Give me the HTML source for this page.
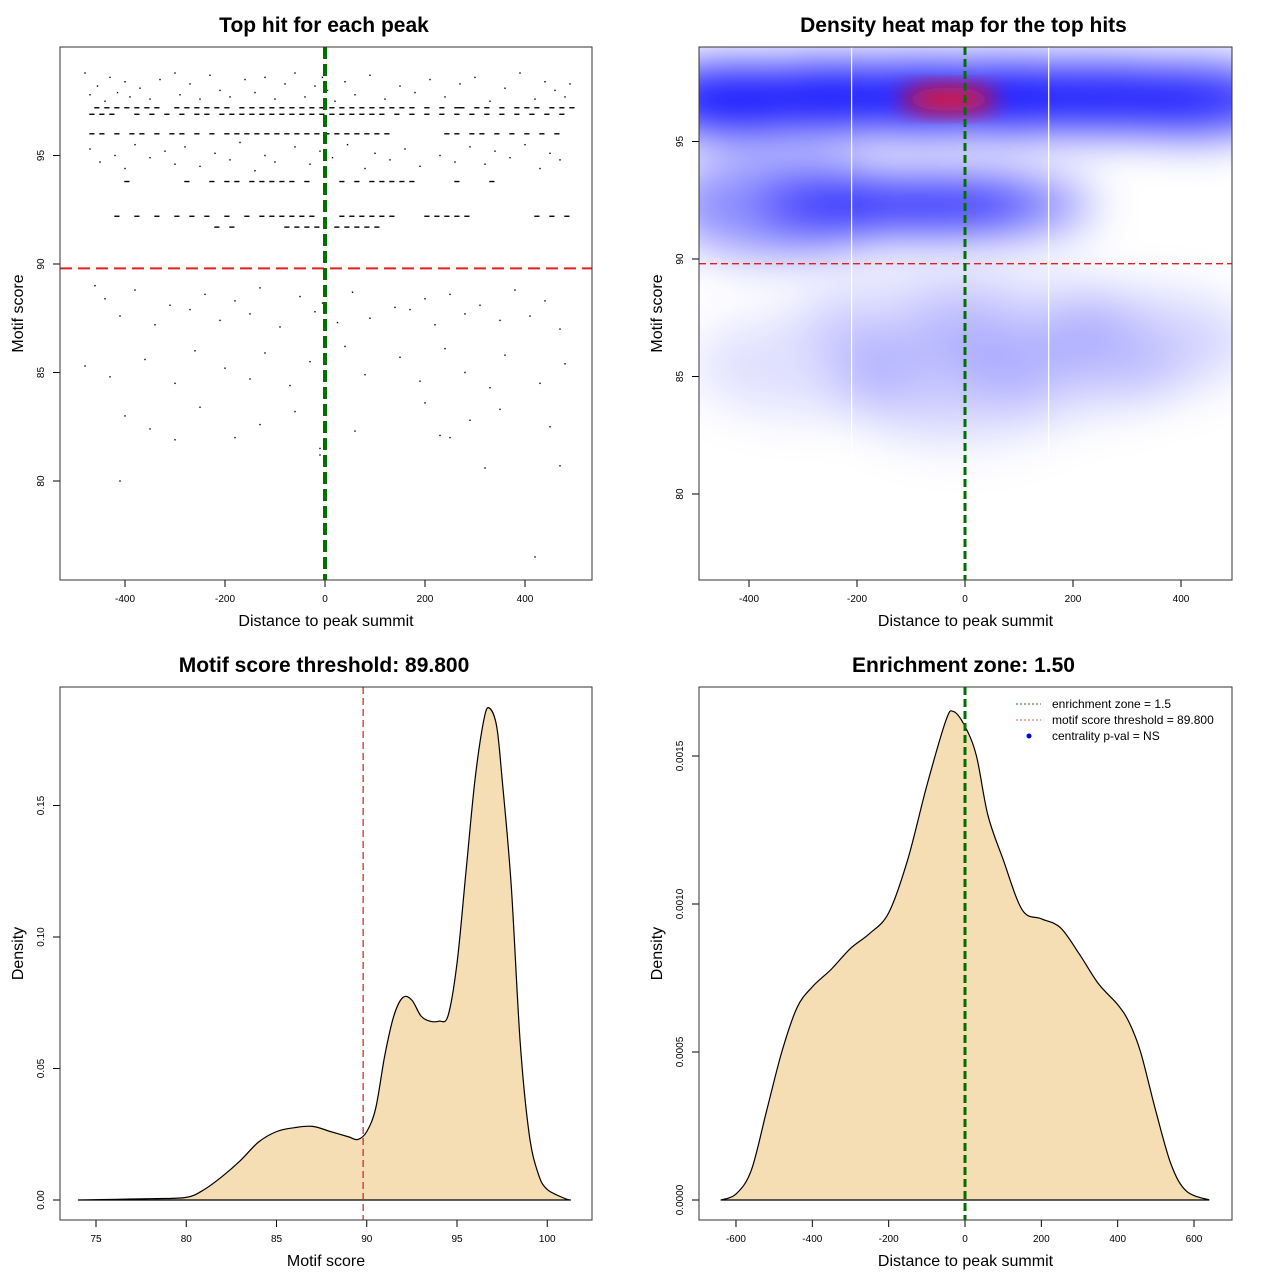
<!DOCTYPE html>
<html><head><meta charset="utf-8"><style>
body{margin:0;background:#fff}
svg{display:block;font-family:"Liberation Sans",sans-serif}
</style></head><body>
<svg id="c" width="1280" height="1280" viewBox="0 0 1280 1280"></svg>
<script>
// ---- data ----
const scatterRowLevels=[97.2,96.9,96.0,93.8,92.2,91.7];
const scatterRowX=[
[-460,-440,-420,-400,-380,-360,-340,-300,-280,-260,-240,-220,-200,-170,-150,-130,-110,-90,-70,-50,-30,-10,10,30,50,70,90,110,130,150,170,200,230,260,270,300,320,350,380,400,420,450,470,490],
[-470,-450,-430,-380,-350,-320,-290,-260,-240,-210,-190,-170,-150,-130,-110,-90,-70,-50,-30,-10,10,30,50,70,90,110,140,170,200,230,260,290,320,350,380,410,440,470],
[-470,-450,-420,-390,-370,-340,-310,-290,-260,-230,-200,-180,-160,-140,-120,-100,-80,-60,-40,-20,0,20,40,60,80,100,120,240,260,290,310,340,370,400,430,460],
[-400,-280,-230,-200,-180,-150,-130,-110,-90,-70,-40,30,60,90,110,130,150,170,260,330],
[-420,-380,-340,-300,-270,-240,-200,-160,-130,-110,-90,-70,-50,-30,30,50,70,90,110,130,200,220,240,260,280,420,450,480],
[-220,-190,-80,-60,-40,-20,20,40,60,80,100]
];
const scatterX=[-480,-470,-455,-440,-430,-415,-400,-390,-370,-350,-330,-300,-290,-270,-250,-230,-210,-190,-160,-140,-120,-100,-80,-60,-40,-20,-5,5,20,40,60,90,120,150,180,210,240,270,300,330,360,390,420,440,460,480,490,
-470,-450,-420,-400,-380,-350,-320,-300,-280,-250,-220,-190,-170,-140,-120,-100,-60,-30,-10,15,45,80,100,130,160,190,230,260,290,320,340,370,400,430,450,470,
-460,-440,-410,-380,-340,-310,-270,-240,-210,-180,-150,-130,-90,-50,-20,-5,25,55,90,140,170,200,220,250,280,310,350,380,410,440,470,
-480,-430,-360,-300,-260,-200,-150,-120,-70,-30,0,40,80,150,190,240,280,330,360,430,480,
-400,-350,-250,-180,-130,-60,-10,60,200,230,290,350,450,-410,-10,320,470,420,-300,250];
const scatterY=[98.8,97.8,98.2,97.5,98.6,97.9,98.4,97.7,98.1,97.6,98.5,98.8,97.8,98.3,97.6,98.7,98.0,97.7,98.5,97.9,98.6,97.6,98.3,98.8,97.7,98.2,98.6,98.0,97.5,98.4,97.8,98.7,97.6,98.2,97.9,98.5,97.7,98.3,98.6,97.5,98.1,98.8,97.6,98.4,98.0,97.7,98.3,
95.3,94.7,95.0,94.4,95.5,94.9,95.2,94.6,95.4,94.5,95.1,94.8,95.6,94.3,95.0,94.7,95.4,94.6,95.2,94.9,95.5,94.4,95.1,94.8,95.3,94.5,95.0,94.7,95.4,94.6,95.2,94.9,95.5,94.4,95.1,94.8,
89.0,88.4,87.6,88.8,87.2,88.1,87.9,88.6,87.4,88.3,87.7,88.9,87.1,88.5,87.8,88.2,87.3,88.7,87.5,88.0,87.9,88.4,87.2,88.6,87.7,88.1,87.4,88.8,87.6,88.3,87.0,
85.3,84.8,85.6,84.5,86.0,85.2,84.7,85.9,84.4,85.5,84.1,86.2,84.9,85.7,84.6,86.1,85.0,84.3,85.8,84.5,85.4,
83.0,82.4,83.4,82.0,82.6,83.2,81.5,82.3,83.6,82.1,82.8,83.3,82.5,80.0,81.2,80.6,80.7,76.5,81.9,82.0];
const heatBlobX=[-420,-250,-80,80,250,420,-30,-200,-60,60,-350,-100,100,330,-300,-50,200,0];
const heatBlobY=[96.8,96.9,96.9,96.9,96.9,96.8,96.8,92.3,92.3,92.3,92.3,87.5,87.5,86.5,85.5,85.0,85.5,84.0];
const heatBlobW=[1.0,1.0,1.0,1.0,0.9,0.9,2.0,0.7,0.85,0.6,0.45,0.13,0.11,0.16,0.12,0.13,0.12,0.08];
const dens1X=[74,78,80,81,82,83,84,85,86,87,88,89,89.5,90,90.5,91,91.5,92,92.5,93,93.5,94,94.5,95,95.5,96,96.5,96.8,97.2,97.5,98,98.5,99,99.5,100,101,101.3];
const dens1Y=[0,0.0005,0.001,0.004,0.009,0.015,0.022,0.026,0.0275,0.028,0.026,0.024,0.023,0.026,0.035,0.055,0.07,0.077,0.076,0.07,0.068,0.068,0.07,0.09,0.125,0.16,0.183,0.187,0.18,0.16,0.12,0.06,0.025,0.01,0.004,0.0005,0];
const dens2X=[-640,-600,-560,-520,-480,-440,-400,-350,-300,-250,-200,-150,-100,-50,-30,0,30,60,100,150,200,250,300,350,400,430,460,500,540,580,640];
const dens2Y=[0,0.00002,0.0001,0.0003,0.0005,0.00065,0.00072,0.00078,0.00085,0.0009,0.00097,0.00115,0.0014,0.00162,0.00165,0.0016,0.0015,0.0013,0.00115,0.00098,0.00095,0.00092,0.00083,0.00073,0.00066,0.0006,0.0005,0.0003,0.00012,0.00003,0];
const ticks1X=[-400,-200,0,200,400], ticks1Y=[80,85,90,95];
const ticks3X=[75,80,85,90,95,100], ticks3Y=[0,0.05,0.10,0.15], ticks3YL=["0.00","0.05","0.10","0.15"];
const ticks4X=[-600,-400,-200,0,200,400,600], ticks4Y=[0,0.0005,0.001,0.0015], ticks4YL=["0.0000","0.0005","0.0010","0.0015"];

const NS="http://www.w3.org/2000/svg", svg=document.getElementById('c');
function el(t,a,p){const e=document.createElementNS(NS,t);for(const k in a)e.setAttribute(k,a[k]);(p||svg).appendChild(e);return e;}
function txt(x,y,s,a,p){const e=el('text',Object.assign({x:x,y:y},a),p);e.textContent=s;return e;}
function smooth(P){let d='M'+P[0][0]+','+P[0][1];for(let i=0;i<P.length-1;i++){const p0=P[Math.max(0,i-1)],p1=P[i],p2=P[i+1],p3=P[Math.min(P.length-1,i+2)];
 const c1x=p1[0]+(p2[0]-p0[0])/6,c1y=p1[1]+(p2[1]-p0[1])/6,c2x=p2[0]-(p3[0]-p1[0])/6,c2y=p2[1]-(p3[1]-p1[1])/6;d+=`C${c1x},${c1y} ${c2x},${c2y} ${p2[0]},${p2[1]}`;}return d+'Z';}

function panel(name,box,xs,ys,xt,xtl,yt,ytl,title,xlab,ylab){
  const g=el('g',{});
  
  
  const ti=txt((box[0]+box[2])/2-2,32+box[1]-47,title,{'text-anchor':'middle','font-size':21,'font-weight':'bold'},g);
  
  const xa=el('g',{},g);
  xt.forEach((v,i)=>{const X=xs(v);el('line',{x1:X,x2:X,y1:box[3],y2:box[3]+7,stroke:'#000'},xa);txt(X,box[3]+22,xtl[i],{'text-anchor':'middle','font-size':10},xa);});
  el('line',{x1:xs(xt[0]),x2:xs(xt[xt.length-1]),y1:box[3],y2:box[3],stroke:'#000'},xa);
  const ya=el('g',{},g);
  yt.forEach((v,i)=>{const Y=ys(v);el('line',{x1:box[0],x2:box[0]-7,y1:Y,y2:Y,stroke:'#000'},ya);txt(box[0]-16,Y,ytl[i],{'text-anchor':'middle','font-size':10,transform:`rotate(-90 ${box[0]-16} ${Y})`},ya);});
  const xl=txt((box[0]+box[2])/2,box[3]+46,xlab,{'text-anchor':'middle','font-size':16},g);
  
  const cy=(box[1]+box[3])/2, cx=box[0]-37;
  const yl=txt(cx,cy,ylab,{'text-anchor':'middle','font-size':16,transform:`rotate(-90 ${cx} ${cy})`},g);
  
  return g;
}
function frame(box,g){const r=el('rect',{x:box[0],y:box[1],width:box[2]-box[0],height:box[3]-box[1],fill:'none',stroke:'#333'},g);}

// Panel 1
const b1=[60,47,592,580];
const x1=v=>325+v*0.5, y1=v=>264-(v-90)*21.7;
const g1=panel('scatter-panel',b1,x1,y1,ticks1X,ticks1X.map(String),ticks1Y,ticks1Y.map(String),'Top hit for each peak','Distance to peak summit','Motif score');
const pts=el('g',{},g1);
scatterRowLevels.forEach((lv,i)=>scatterRowX[i].forEach(v=>{for(let d=0;d<10;d+=2.5){const c=el('rect',{x:x1(v+d)-0.7,y:y1(lv)-0.7,width:1.4,height:1.4,fill:'#000'},pts);}}));
scatterX.forEach((v,i)=>{const c=el('rect',{x:x1(v)-0.7,y:y1(scatterY[i])-0.7,width:1.4,height:1.4,fill:'#000'},pts);});
el('line',{x1:b1[0],x2:b1[2],y1:y1(89.8),y2:y1(89.8),stroke:'#e02020','stroke-width':2,'stroke-dasharray':'12,6'},g1);
el('line',{x1:x1(0),x2:x1(0),y1:b1[1],y2:b1[3],stroke:'#007000','stroke-width':4,'stroke-dasharray':'12,5'},g1);
frame(b1,g1);

// Panel 2
const b2=[699,47,1232,580];
const x2=v=>965+v*0.54, y2=v=>259-(v-90)*23.5;
const g2=panel('heatmap-panel',b2,x2,y2,ticks1X,ticks1X.map(String),ticks1Y,ticks1Y.map(String),'Density heat map for the top hits','Distance to peak summit','Motif score');
const defs=el('defs',{});
const cp=el('clipPath',{id:'cp2'},defs);el('rect',{x:b2[0],y:b2[1],width:533,height:533},cp);
const f=el('filter',{id:'bl',x:'-50%',y:'-50%',width:'200%',height:'200%'},defs);el('feGaussianBlur',{stdDeviation:24},f);
const f2=el('filter',{id:'bl2',x:'-50%',y:'-50%',width:'200%',height:'200%'},defs);el('feGaussianBlur',{stdDeviation:12},f2);
const hm=el('g',{'clip-path':'url(#cp2)'},g2);
const hb=el('g',{filter:'url(#bl)'},hm);
heatBlobX.forEach((v,i)=>{const w=heatBlobW[i];if(w>1.5)return;const strong=w>0.5;
  const e=el('ellipse',{cx:x2(v),cy:y2(heatBlobY[i]),rx:strong?95:110,ry:strong?(heatBlobY[i]>95?32:24):50,fill:'#0000ff','fill-opacity':Math.min(1,w)},hb);});
const hr=el('g',{filter:'url(#bl2)'},hm);
heatBlobX.forEach((v,i)=>{const w=heatBlobW[i];if(w<=1.5)return;
  el('ellipse',{cx:x2(v),cy:y2(heatBlobY[i]),rx:48,ry:12,fill:'#ff1010','fill-opacity':1},hr);});
el('line',{x1:x2(-210),x2:x2(-210),y1:b2[1],y2:y2(81.5),stroke:'#fff','stroke-width':1.2},hm);
el('line',{x1:x2(155),x2:x2(155),y1:b2[1],y2:y2(81.5),stroke:'#fff','stroke-width':1.2},hm);
el('line',{x1:b2[0],x2:b2[2],y1:y2(89.8),y2:y2(89.8),stroke:'#e02020','stroke-width':1.3,'stroke-dasharray':'7,4'},g2);
el('line',{x1:x2(0),x2:x2(0),y1:b2[1],y2:b2[3],stroke:'#007000','stroke-width':3,'stroke-dasharray':'8,4'},g2);
frame(b2,g2);

// Panel 3
const b3=[60,687,592,1220];
const x3=v=>96+(v-75)*18.05, y3=v=>1200-v*2630;
const g3=panel('score-density-panel',b3,x3,y3,ticks3X,ticks3X.map(String),ticks3Y,ticks3YL,'Motif score threshold: 89.800','Motif score','Density');
el('path',{d:smooth(dens1X.map((v,i)=>[x3(v),y3(dens1Y[i])])),fill:'#f5deb3',stroke:'#000','stroke-width':1.2},g3);
el('line',{x1:x3(dens1X[0]),x2:x3(dens1X[dens1X.length-1]),y1:y3(0),y2:y3(0),stroke:'#000'},g3);
el('line',{x1:x3(89.8),x2:x3(89.8),y1:b3[1],y2:b3[3],stroke:'#d03030','stroke-width':1.3,'stroke-dasharray':'7,4'},g3);
frame(b3,g3);

// Panel 4
const b4=[699,687,1232,1220];
const x4=v=>965+v*0.3817, y4=v=>1200-v*296000;
const g4=panel('distance-density-panel',b4,x4,y4,ticks4X,ticks4X.map(String),ticks4Y,ticks4YL,'Enrichment zone: 1.50','Distance to peak summit','Density');
el('path',{d:smooth(dens2X.map((v,i)=>[x4(v),y4(dens2Y[i])])),fill:'#f5deb3',stroke:'#000','stroke-width':1.2},g4);
el('line',{x1:x4(dens2X[0]),x2:x4(dens2X[dens2X.length-1]),y1:y4(0),y2:y4(0),stroke:'#000'},g4);
el('line',{x1:x4(0),x2:x4(0),y1:b4[1],y2:b4[3],stroke:'#007000','stroke-width':3,'stroke-dasharray':'8,4'},g4);
const lg=el('g',{},g4);
const le=[['enrichment zone = 1.5','#207020'],['motif score threshold = 89.800','#e05050'],['centrality p-val = NS','#0000ff']];
le.forEach((l,i)=>{const Y=704+i*16;const it=el('g',{},lg);
  if(i<2)el('line',{x1:1016,x2:1041,y1:Y,y2:Y,stroke:l[1],'stroke-dasharray':'2,2'},it);else el('circle',{cx:1029,cy:Y,r:2.5,fill:l[1]},it);
  txt(1052,Y+4,l[0],{'font-size':12},it);});
frame(b4,g4);
</script>
</body></html>
